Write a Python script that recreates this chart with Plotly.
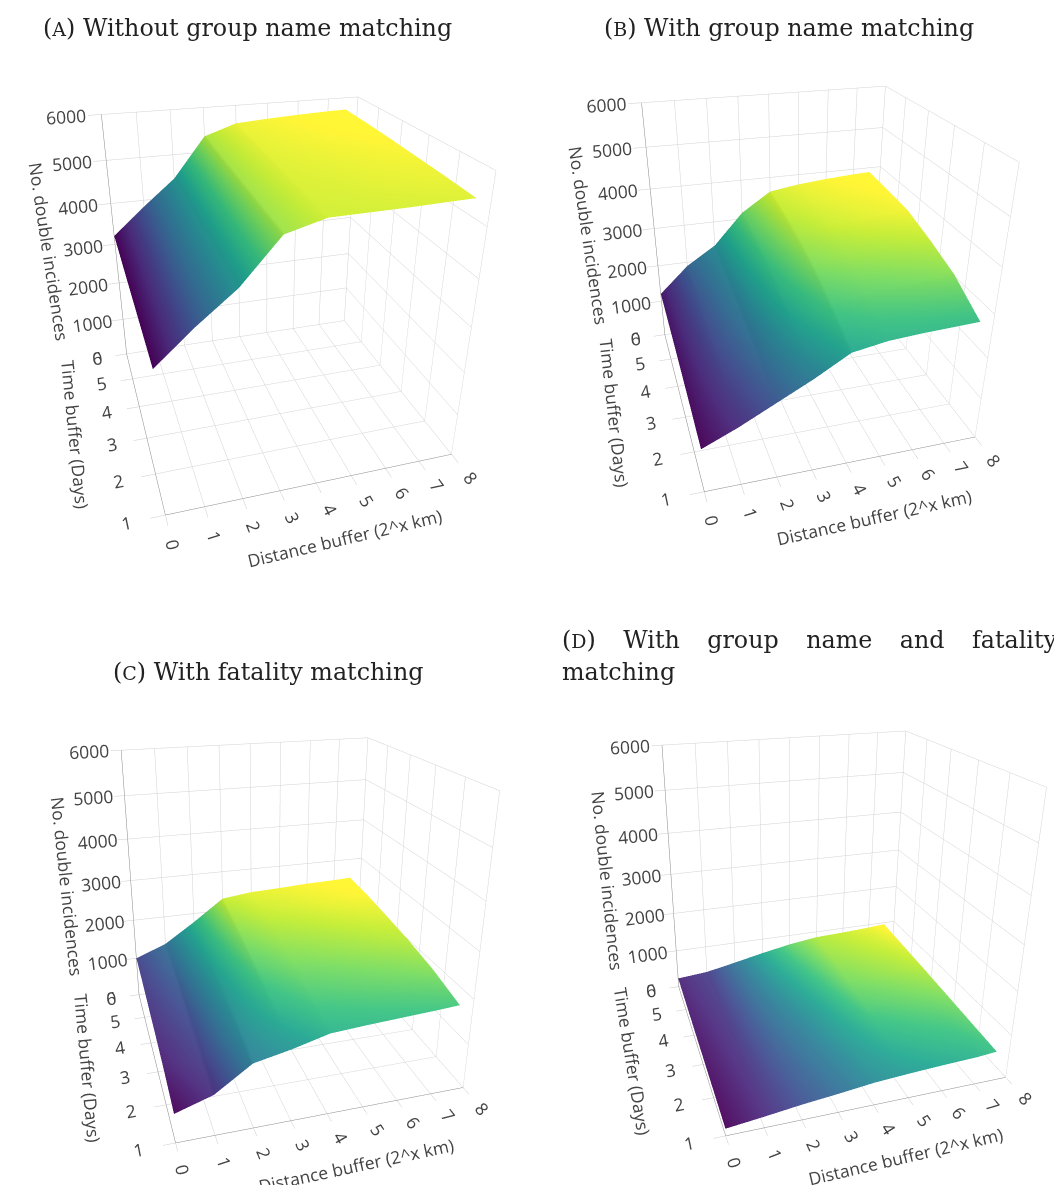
import plotly.graph_objects as go

distance = [0, 1, 2, 3, 4, 5, 6, 7, 7.6]
time_buf = [1, 2, 3, 4, 5, 6]
z_ticks = [0, 1000, 2000, 3000, 4000, 5000, 6000]
za = [[3200, 3870, 4470, 5300, 5500, 5510, 5520, 5540, 5550],
      [3205, 3860, 4470, 5310, 5520, 5540, 5570, 5590, 5600],
      [3205, 3860, 4460, 5320, 5540, 5570, 5600, 5630, 5640],
      [3205, 3855, 4460, 5330, 5560, 5600, 5640, 5670, 5680],
      [3210, 3850, 4450, 5340, 5580, 5630, 5670, 5700, 5710],
      [3210, 3850, 4450, 5360, 5600, 5650, 5690, 5720, 5730]]
zb = [[1050, 1400, 1800, 2200, 2650, 2780, 2830, 2860, 2880],
      [1110, 1540, 1960, 2520, 3000, 3130, 3200, 3270, 3320],
      [1150, 1650, 2090, 2760, 3280, 3400, 3470, 3530, 3570],
      [1180, 1730, 2190, 2930, 3450, 3600, 3680, 3740, 3780],
      [1200, 1800, 2290, 3060, 3570, 3690, 3760, 3810, 3840],
      [1210, 1900, 2370, 3160, 3640, 3750, 3820, 3870, 3890]]
zc = [[630, 880, 1400, 1560, 1760, 1810, 1850, 1890, 1920],
      [760, 980, 1480, 1770, 1940, 1990, 2040, 2090, 2130],
      [840, 1050, 1560, 1940, 2090, 2140, 2190, 2240, 2270],
      [900, 1130, 1640, 2080, 2210, 2260, 2310, 2350, 2370],
      [960, 1210, 1720, 2200, 2320, 2360, 2410, 2450, 2460],
      [1000, 1290, 1780, 2310, 2400, 2430, 2470, 2490, 2510]]
zd = [[160, 250, 350, 430, 520, 570, 610, 640, 680],
      [175, 260, 370, 460, 560, 640, 680, 710, 740],
      [190, 270, 390, 490, 600, 720, 750, 780, 800],
      [205, 280, 410, 530, 650, 780, 810, 840, 860],
      [220, 290, 430, 570, 700, 820, 850, 880, 910],
      [235, 300, 450, 610, 750, 850, 880, 920, 960]]
x_title = "Distance buffer (2^x km)"
y_title = "Time buffer (Days)"
z_title = "No. double incidences"
panels = [za, zb, zc, zd]

domains = [([0.0, 0.5], [0.5, 1.0]), ([0.5, 1.0], [0.5, 1.0]),
           ([0.0, 0.5], [0.0, 0.5]), ([0.5, 1.0], [0.0, 0.5])]
eyes = [(-0.667, -2.118, 1.115), (-0.683, -2.191, 1.153), (-0.695, -2.158, 0.976), (-0.791, -2.144, 1.014)]
centers = [(-0.039, -0.014, -0.047), (-0.064, -0.036, -0.094), (-0.064, 0.048, 0.072), (-0.119, 0.059, 0.052)]
ups = [(0.008, -0.002, 1.0), (0.016, -0.005, 1.0), (0.01, -0.003, 1.0), (0.019, -0.006, 1.0)]
aspects = [(0.981, 0.955), (0.96, 0.978), (0.957, 0.908), (0.962, 0.919)]
tick_lengths = [11, 11, 9, 9]


def xyz(t):
    return dict(x=t[0], y=t[1], z=t[2])


fig = go.Figure()
layout = dict(width=1054, height=1185, margin=dict(l=0, r=0, t=0, b=0),
              paper_bgcolor="white", showlegend=False, template="none",
              font=dict(family="Open Sans", color="#444", size=12))
for i, z in enumerate(panels):
    name = "scene" if i == 0 else f"scene{i+1}"
    fig.add_trace(go.Surface(x=distance, y=time_buf, z=z, colorscale="Viridis",
                             showscale=False, scene=name))
    ax = dict(showbackground=False, gridcolor="rgb(210,210,210)", linecolor="#888",
              showline=True, zeroline=False, tickfont=dict(size=14.5, color="#444"),
              ticks="outside", ticklen=tick_lengths[i], tickcolor="#ccc")
    layout[name] = dict(
        domain=dict(x=domains[i][0], y=domains[i][1]),
        aspectmode="manual", aspectratio=dict(x=aspects[i][0], y=aspects[i][1], z=1),
        camera=dict(eye=xyz(eyes[i]), center=xyz(centers[i]), up=xyz(ups[i])),
        xaxis=dict(ax, title=dict(text=x_title, font=dict(size=17.5)), range=[0, 8], dtick=1),
        yaxis=dict(ax, title=dict(text=y_title, font=dict(size=17.5)), range=[1, 6], dtick=1),
        zaxis=dict(ax, title=dict(text=z_title, font=dict(size=17.5)), range=[0, 6000], tickvals=z_ticks),
    )
fig.update_layout(**layout)

sc = "font-size:19px"
gap = "\u00a0" * 3 + "\u2009"
titles = [(f"(<span style='{sc}'>A</span>) Without group name matching", 247.5, 28),
          (f"(<span style='{sc}'>B</span>) With group name matching", 789, 28),
          (f"(<span style='{sc}'>C</span>) With fatality matching", 267.5, 672),
          (f"(<span style='{sc}'>D</span>)" + gap + "With" + gap + "group" + gap + "name" + gap + "and" + gap + "fatality", 810, 640),
          ("matching", 618, 672)]
for text, x, y in titles:
    fig.add_annotation(text=text, x=x / 1054, y=1 - y / 1185, xref="paper", yref="paper",
                       showarrow=False, xanchor="center", yanchor="middle",
                       font=dict(family="DejaVu Serif", size=23.8, color="#222"))
fig.write_html("out.html", post_script="document.body.style.margin='0';", config=dict(displayModeBar=False))
